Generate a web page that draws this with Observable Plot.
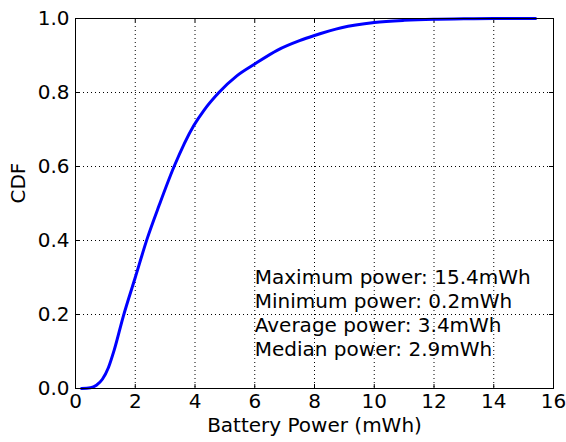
<!DOCTYPE html>
<html>
<head>
<meta charset="utf-8">
<script src="https://cdn.jsdelivr.net/npm/d3@7"></script>
<script src="https://cdn.jsdelivr.net/npm/@observablehq/plot@0.6"></script>
<style>
  html, body { margin: 0; padding: 0; background: #fff; }
  #chart svg { display: block; }
</style>
</head>
<body>
<div id="chart"></div>
<script>
// Battery power (mWh) and cumulative fraction
const powerValues = [0.2, 0.5, 0.7, 0.9, 1.1, 1.3, 1.6, 2.0, 2.4, 2.8, 3.3, 3.96, 4.3, 4.8, 5.4, 6.0, 6.75, 7.5, 8.0, 8.9, 10.0, 11.0, 12.0, 13.0, 14.0, 15.4];
const cdfValues   = [0, 0.002, 0.009, 0.025, 0.056, 0.105, 0.195, 0.3, 0.405, 0.495, 0.6, 0.711, 0.752, 0.8, 0.845, 0.877, 0.914, 0.94, 0.954, 0.975, 0.989, 0.995, 0.998, 0.999, 1.0, 1.0];

const xTicks = [0, 2, 4, 6, 8, 10, 12, 14, 16];
const yTicks = [0, 0.2, 0.4, 0.6, 0.8, 1.0];

const statsLabels = ["Maximum power", "Minimum power", "Average power", "Median power"];
const statsValues = [15.4, 0.2, 3.4, 2.9];
const statsUnit = "mWh";

const xLabel = "Battery Power (mWh)";
const yLabel = "CDF";

const data = powerValues.map((p, i) => ({power: p, cdf: cdfValues[i]}));
const statsText = statsLabels.map((l, i) => `${l}: ${statsValues[i]}${statsUnit}`).join("\n");

const tickLenX = 4 / 29.9;   // ~4px in x data units
const tickLenY = 4 / 370;    // ~4px in y data units

const chart = Plot.plot({
  width: 566,
  height: 442,
  marginLeft: 75,
  marginRight: 13,
  marginTop: 18,
  marginBottom: 54,
  style: {fontFamily: "DejaVu Sans", fontSize: "20px", color: "#000", background: "#fff"},
  x: {domain: [0, 16]},
  y: {domain: [0, 1]},
  marks: [
    Plot.gridX(xTicks, {stroke: "#000", strokeOpacity: 1, strokeWidth: 1, strokeDasharray: "1,3"}),
    Plot.gridY(yTicks, {stroke: "#000", strokeOpacity: 1, strokeWidth: 1, strokeDasharray: "1,3"}),
    Plot.axisX(xTicks, {tickSize: 0, tickPadding: 5, label: null, fontSize: 20, tickFormat: d => String(d)}),
    Plot.axisY(yTicks, {tickSize: 0, tickPadding: 6, label: null, fontSize: 20, tickFormat: d3.format(".1f")}),
    // inward ticks on all four sides
    Plot.ruleX(xTicks, {x: d => d, y1: 0, y2: tickLenY, stroke: "#000"}),
    Plot.ruleX(xTicks, {x: d => d, y1: 1, y2: 1 - tickLenY, stroke: "#000"}),
    Plot.ruleY(yTicks, {y: d => d, x1: 0, x2: tickLenX, stroke: "#000"}),
    Plot.ruleY(yTicks, {y: d => d, x1: 16, x2: 16 - tickLenX, stroke: "#000"}),
    Plot.line(data, {x: "power", y: "cdf", stroke: "#0000ff", strokeWidth: 3, curve: "monotone-x"}),
    Plot.text([statsText], {x: 6, y: 0.207, text: d => d, textAnchor: "start", lineAnchor: "middle", lineHeight: 1.2, fontSize: 20, fill: "#000"}),
    Plot.text([xLabel], {frameAnchor: "bottom", dy: 43, text: d => d, fontSize: 20, fill: "#000"}),
    Plot.text([yLabel], {frameAnchor: "left", dx: -57, rotate: -90, text: d => d, fontSize: 20, fill: "#000"}),
    Plot.frame({stroke: "#000", strokeWidth: 1})
  ]
});
document.getElementById("chart").appendChild(chart);
</script>
</body>
</html>
